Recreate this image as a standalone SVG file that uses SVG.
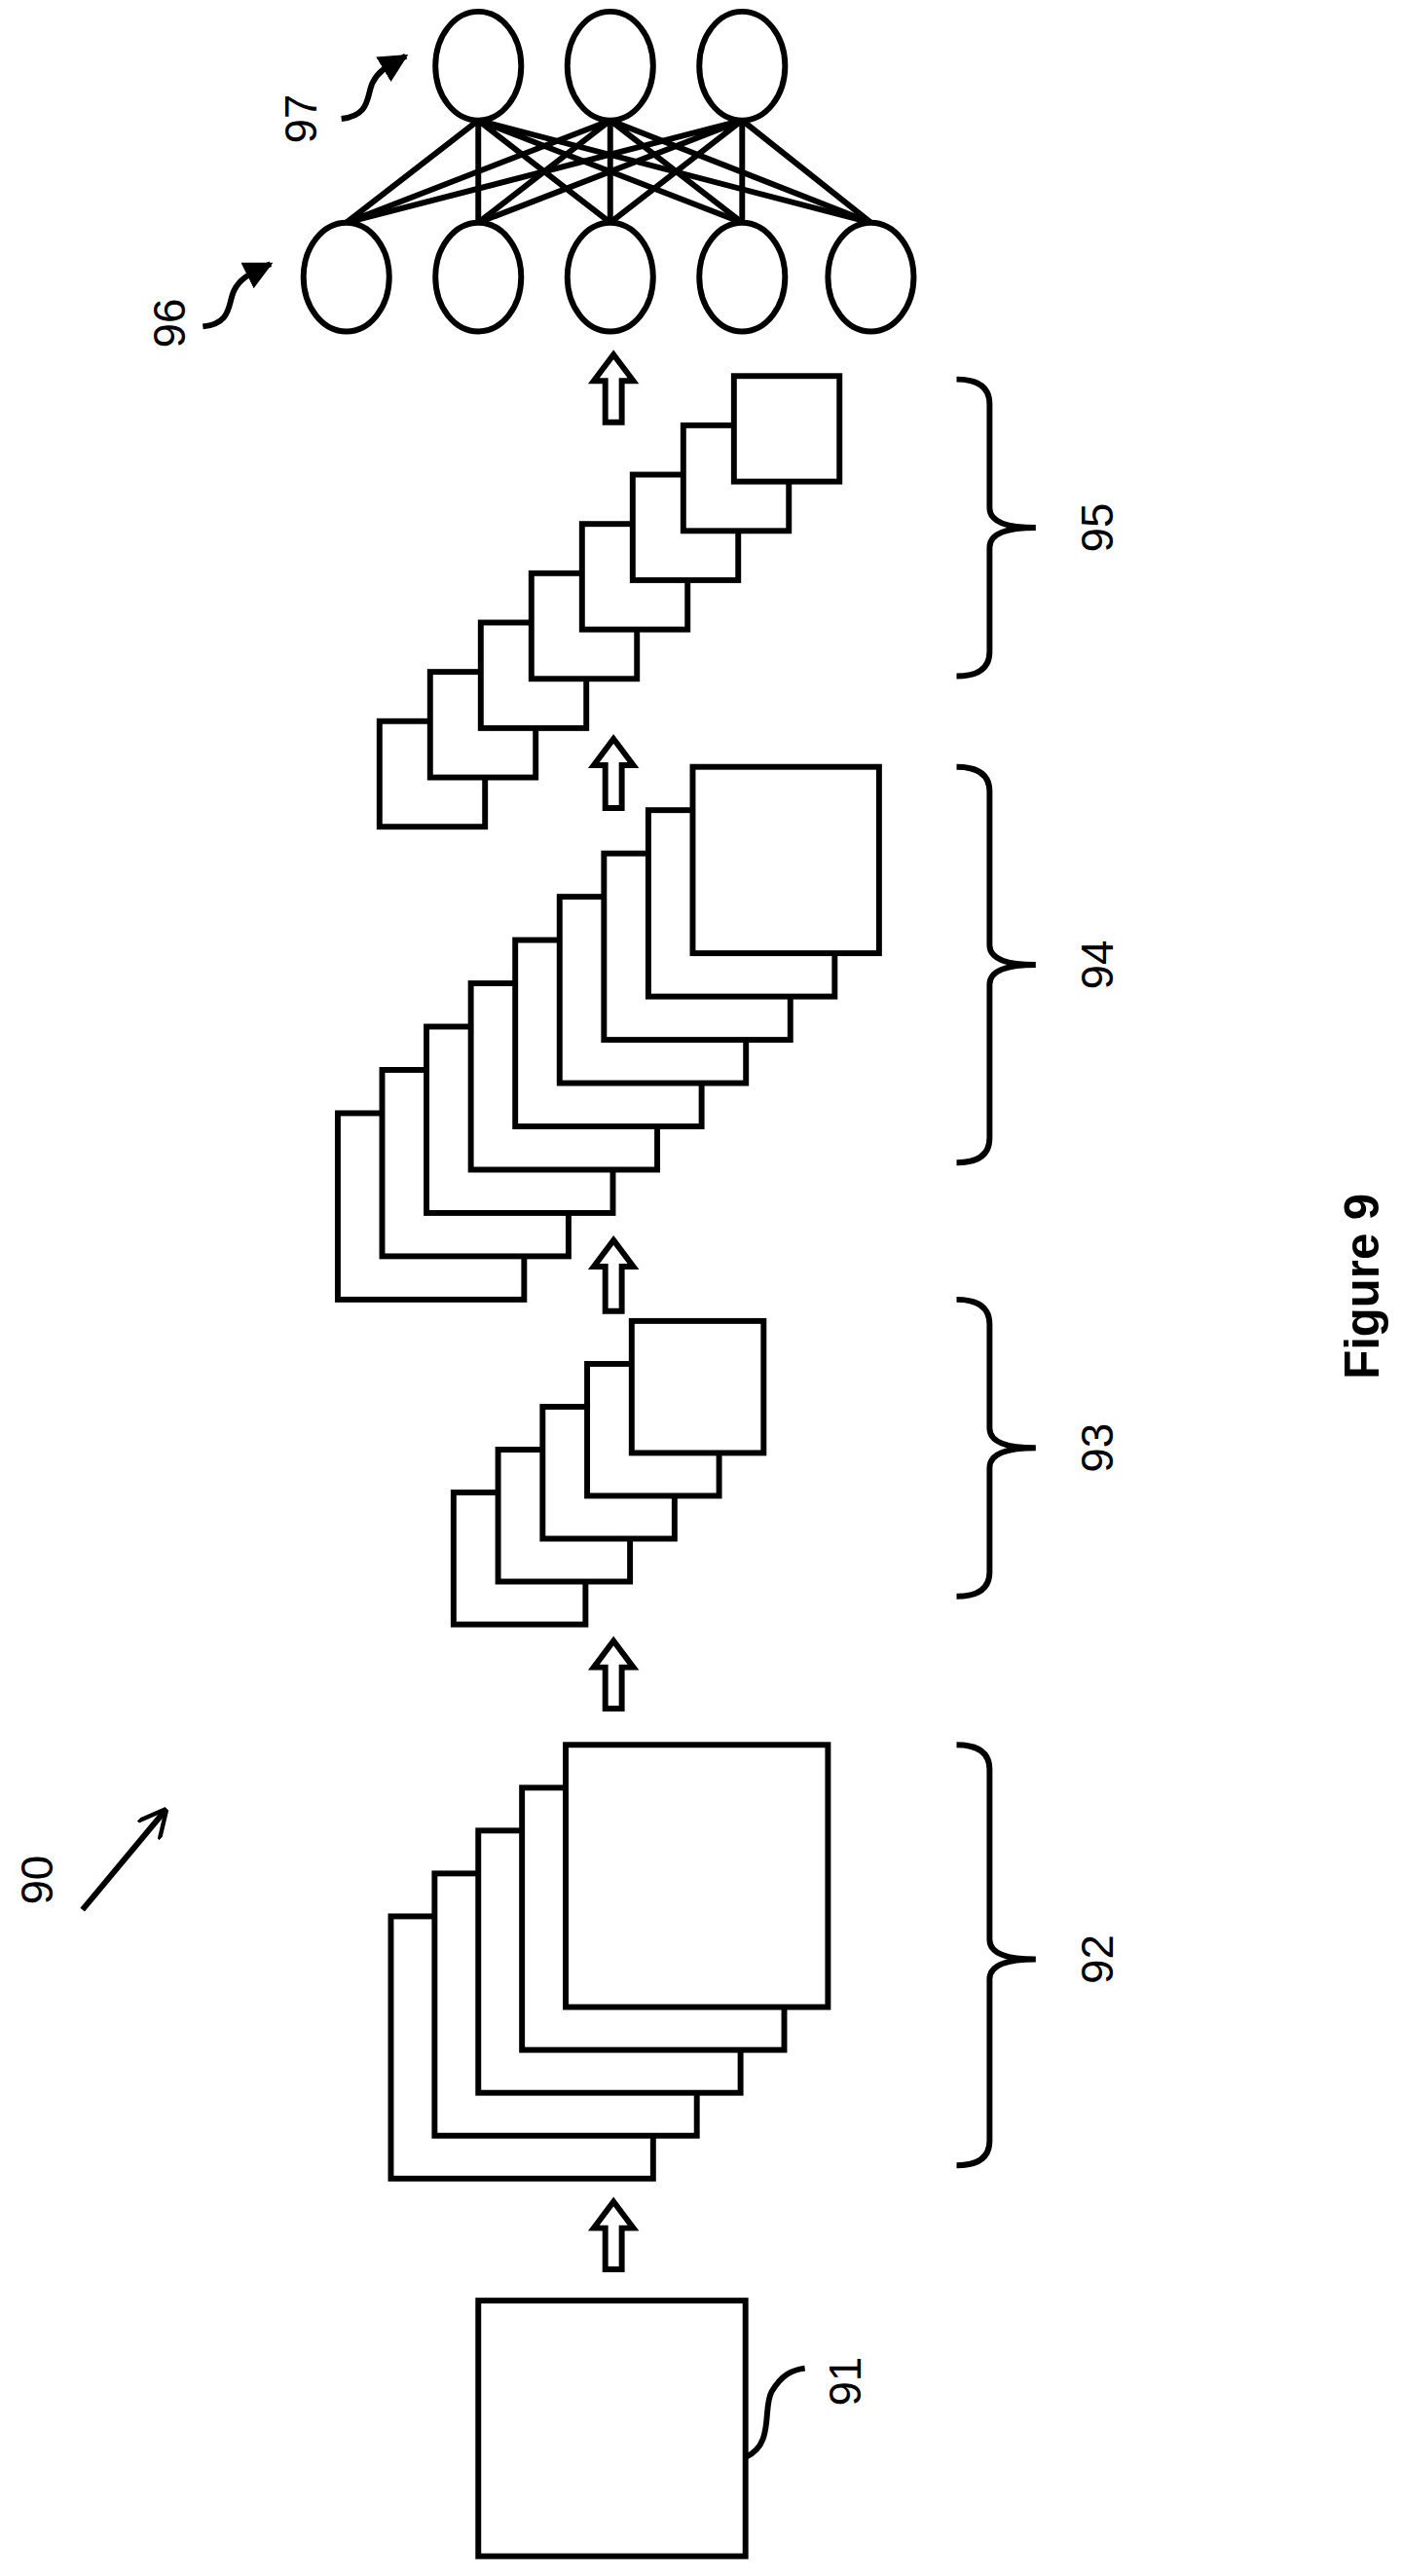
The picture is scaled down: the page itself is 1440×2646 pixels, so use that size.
<svg xmlns="http://www.w3.org/2000/svg" width="1440" height="2646" viewBox="0 0 1440 2646">
<style>
.s{fill:#fff;stroke:#000;stroke-width:3.5}
.l{fill:none;stroke:#000;stroke-width:3.5}
.t{font-family:"Liberation Sans",Arial,sans-serif;font-size:27px;fill:#000}
.f{font-family:"Liberation Sans",Arial,sans-serif;font-size:29px;font-weight:bold;fill:#000}
</style>
<defs>
<marker id="ah" viewBox="0 0 10 10" refX="9" refY="5" markerWidth="5" markerHeight="5" orient="auto"><path d="M0,0 L10,5 L0,10 Z" fill="#000"/></marker>
<marker id="oa" viewBox="0 0 10 10" refX="9" refY="5" markerWidth="5" markerHeight="5" orient="auto"><path d="M0,0 L10,5 L0,10" fill="none" stroke="#000" stroke-width="1.5"/></marker>
</defs>
<rect width="1440" height="2646" fill="#fff"/>
<g transform="scale(1.694)">
<g id="connectors">
<g class="l">
<path d="M290,73 L210,135 M290,73 L290,135 M290,73 L370,135 M290,73 L450,135 M290,73 L528,135"/>
<path d="M370,73 L210,135 M370,73 L290,135 M370,73 L370,135 M370,73 L450,135 M370,73 L528,135"/>
<path d="M450,73 L210,135 M450,73 L290,135 M450,73 L370,135 M450,73 L450,135 M450,73 L528,135"/>
</g>
<g class="s">
<path d="M372,215 L384,231 L377,231 L377,256 L367,256 L367,231 L360,231 Z"/>
<path d="M372,448 L384,464 L377,464 L377,490 L367,490 L367,464 L360,464 Z"/>
<path d="M372,752 L384,768 L377,768 L377,795 L367,795 L367,768 L360,768 Z"/>
<path d="M372,995 L384,1011 L377,1011 L377,1036 L367,1036 L367,1011 L360,1011 Z"/>
<path d="M372,1335 L384,1351 L377,1351 L377,1376 L367,1376 L367,1351 L360,1351 Z"/>
</g>
</g>
<g id="layer97" class="s">
<ellipse cx="290" cy="40" rx="26" ry="33"/><ellipse cx="370" cy="40" rx="26" ry="33"/><ellipse cx="450" cy="40" rx="26" ry="33"/>
</g>
<g id="layer96" class="s">
<ellipse cx="210" cy="168" rx="26" ry="33"/><ellipse cx="290" cy="168" rx="26" ry="33"/><ellipse cx="370" cy="168" rx="26" ry="33"/><ellipse cx="450" cy="168" rx="26" ry="33"/><ellipse cx="528" cy="168" rx="26" ry="33"/>
</g>
<g id="label97">
<text class="t" transform="translate(192,72) rotate(-90)" text-anchor="middle">97</text>
<path class="l" d="M207,72 C225,70 222,58 226,50 C230,42 236,40 246,34" marker-end="url(#ah)"/>
</g>
<g id="label96">
<text class="t" transform="translate(112,196) rotate(-90)" text-anchor="middle">96</text>
<path class="l" d="M123,198 C141,196 138,184 142,176 C146,168 152,166 164,160" marker-end="url(#ah)"/>
</g>
<g id="group95" class="s">
<rect x="230.1" y="437.3" width="64" height="64"/><rect x="260.8" y="407.4" width="64" height="64"/><rect x="291.5" y="377.5" width="64" height="64"/><rect x="322.2" y="347.6" width="64" height="64"/><rect x="352.9" y="317.7" width="64" height="64"/><rect x="383.6" y="287.8" width="64" height="64"/><rect x="414.3" y="257.9" width="64" height="64"/><rect x="445" y="228" width="64" height="64"/>
</g>
<g id="group94" class="s">
<rect x="204.8" y="675" width="113" height="113"/><rect x="231.7" y="648.75" width="113" height="113"/><rect x="258.6" y="622.5" width="113" height="113"/><rect x="285.5" y="596.25" width="113" height="113"/><rect x="312.4" y="570" width="113" height="113"/><rect x="339.3" y="543.75" width="113" height="113"/><rect x="366.2" y="517.5" width="113" height="113"/><rect x="393.1" y="491.25" width="113" height="113"/><rect x="420" y="465" width="113" height="113"/>
</g>
<g id="group93" class="s">
<rect x="275" y="905" width="80" height="80"/><rect x="302" y="879" width="80" height="80"/><rect x="329" y="853" width="80" height="80"/><rect x="356" y="827" width="80" height="80"/><rect x="383" y="801" width="80" height="80"/>
</g>
<g id="group92" class="s">
<rect x="237" y="1162" width="159" height="159"/><rect x="263.5" y="1136" width="159" height="159"/><rect x="290" y="1110" width="159" height="159"/><rect x="316.5" y="1084" width="159" height="159"/><rect x="343" y="1058" width="159" height="159"/>
</g>
<g id="box91">
<rect class="s" x="290" y="1395" width="162" height="155"/>
<path class="l" d="M452,1490 C470,1482 462,1460 468,1450 C474,1440 480,1437 488,1436"/>
<text class="t" transform="translate(522,1444) rotate(-90)" text-anchor="middle">91</text>
</g>
<g id="braces" class="l">
<path d="M580,230 Q600,230 600,245 L600,308 Q600,320 628,320 Q600,320 600,332 L600,395 Q600,410 580,410"/>
<path d="M580,465 Q600,465 600,480 L600,573 Q600,585 628,585 Q600,585 600,597 L600,690 Q600,705 580,705"/>
<path d="M580,788 Q600,788 600,803 L600,866 Q600,878 628,878 Q600,878 600,890 L600,953 Q600,968 580,968"/>
<path d="M580,1058 Q600,1058 600,1073 L600,1176 Q600,1188 628,1188 Q600,1188 600,1200 L600,1298 Q600,1313 580,1313"/>
</g>
<g id="labels">
<text class="t" transform="translate(675,320) rotate(-90)" text-anchor="middle">95</text>
<text class="t" transform="translate(675,585) rotate(-90)" text-anchor="middle">94</text>
<text class="t" transform="translate(675,878) rotate(-90)" text-anchor="middle">93</text>
<text class="t" transform="translate(675,1188) rotate(-90)" text-anchor="middle">92</text>
<text class="t" transform="translate(32,1140) rotate(-90)" text-anchor="middle">90</text>
<path class="l" d="M50,1158 L100,1098" marker-end="url(#oa)"/>
<text class="f" transform="translate(836,780) rotate(-90)" text-anchor="middle">Figure 9</text>
</g>
</g>
</svg>
